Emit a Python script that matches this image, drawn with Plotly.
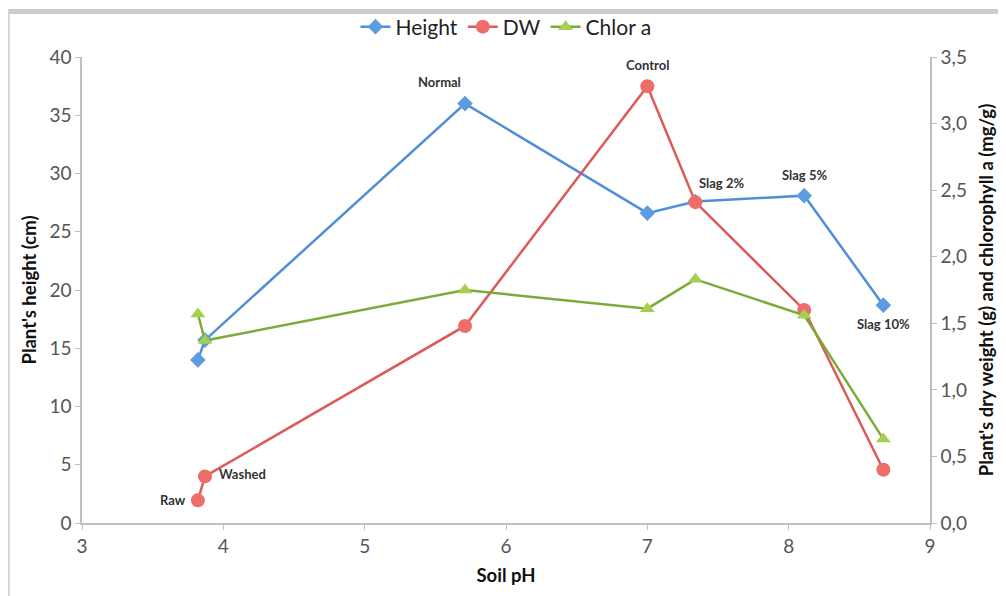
import plotly.graph_objects as go

# Data
soil_ph = [3.82, 3.87, 5.71, 7.00, 7.34, 8.11, 8.67]
treatments = ["Raw", "Washed", "Normal", "Control", "Slag 2%", "Slag 5%", "Slag 10%"]
height_cm = [14.0, 15.7, 36.0, 26.6, 27.6, 28.1, 18.7]
dry_weight_g = [0.17, 0.35, 1.48, 3.28, 2.41, 1.60, 0.40]
chlor_a = [1.57, 1.37, 1.75, 1.61, 1.83, 1.56, 0.63]

x_ticks = [3, 4, 5, 6, 7, 8, 9]
left_ticks = [0, 5, 10, 15, 20, 25, 30, 35, 40]
right_ticks = [0, 0.5, 1.0, 1.5, 2.0, 2.5, 3.0, 3.5]

# label anchoring: (series, xshift, yshift, xanchor)
label_specs = {
    "Raw": ("dw", -10, 0, "right"),
    "Washed": ("dw", 12, 2, "left"),
    "Normal": ("h", -26, 22, "center"),
    "Control": ("dw", 0, 21, "center"),
    "Slag 2%": ("dw", 26, 19, "center"),
    "Slag 5%": ("h", 0, 21, "center"),
    "Slag 10%": ("h", 0, -19, "center"),
}

BLUE_L, BLUE_M = "#4f8fd6", "#5b9de0"
RED_L, RED_M = "#dc5a57", "#ee6d6a"
GREEN_L, GREEN_M = "#7dab3a", "#a5cf4f"

FONT = "Lato, Open Sans, sans-serif"

fig = go.Figure()
fig.add_trace(go.Scatter(
    x=soil_ph, y=height_cm, name="Height", mode="lines+markers",
    line=dict(color=BLUE_L, width=2.5),
    marker=dict(symbol="diamond", size=12, color=BLUE_M),
    yaxis="y"))
fig.add_trace(go.Scatter(
    x=soil_ph, y=dry_weight_g, name="DW", mode="lines+markers",
    line=dict(color=RED_L, width=2.5),
    marker=dict(symbol="circle", size=14, color=RED_M),
    yaxis="y2"))
fig.add_trace(go.Scatter(
    x=soil_ph, y=chlor_a, name="Chlor a", mode="lines+markers",
    line=dict(color=GREEN_L, width=2.5),
    marker=dict(symbol="triangle-up", size=13, color=GREEN_M),
    yaxis="y2"))

annotations = []
for i, name in enumerate(treatments):
    series, xs, ys, xa = label_specs[name]
    if series == "h":
        yval, yref = height_cm[i], "y"
    else:
        yval, yref = dry_weight_g[i], "y2"
    annotations.append(dict(
        x=soil_ph[i], y=yval, xref="x", yref=yref, text="<b>" + name + "</b>",
        showarrow=False, xshift=xs, yshift=ys, xanchor=xa, yanchor="middle",
        font=dict(family=FONT, size=13, color="#333333")))

axis_font = dict(family=FONT, size=19, color="#555555")
title_font = dict(family=FONT, size=18.5, color="#111111")

# page body has an 8px margin, so the figure is offset by 8px
W, H = 998, 588
L, T = 74, 49
pw, ph = 848, 466
R, B = W - L - pw, H - T - ph

def px(xp):
    return (xp - L) / pw

def py(yp):
    return (T + ph - yp) / ph

shapes = [
    dict(type="rect", xref="paper", yref="paper", x0=px(0), x1=px(W), y0=py(6), y1=py(1),
         fillcolor="#cccccc", line=dict(width=0), layer="below"),
    dict(type="line", xref="paper", yref="paper", x0=px(0.8), x1=px(0.8), y0=py(H), y1=py(1),
         line=dict(color="#d4d4d4", width=2)),
]

fig.update_layout(
    width=W, height=H,
    margin=dict(l=L, r=R, t=T, b=B, autoexpand=False),
    paper_bgcolor="white", plot_bgcolor="white",
    separators=",.",
    showlegend=True,
    legend=dict(orientation="h", x=0.5, xanchor="center", y=py(19), yanchor="middle",
                font=dict(family=FONT, size=21, color="#222222"),
                tracegroupgap=0, bgcolor="rgba(0,0,0,0)"),
    xaxis=dict(range=[3, 9], tickvals=x_ticks, showgrid=False, zeroline=False,
               showline=True, linecolor="#bfbfbf", linewidth=1.5,
               ticks="outside", ticklen=5, tickcolor="#bfbfbf",
               tickfont=axis_font, automargin=False,
               title=dict(text="<b>Soil pH</b>", font=title_font, standoff=14)),
    yaxis=dict(range=[0, 40], tickvals=left_ticks, showgrid=False, zeroline=False,
               showline=True, linecolor="#bfbfbf", linewidth=1.5,
               ticks="outside", ticklen=5, tickcolor="#bfbfbf",
               tickfont=axis_font, automargin=False,
               title=dict(text="<b>Plant's height (cm)</b>", font=title_font, standoff=8)),
    yaxis2=dict(range=[0, 3.5], tickvals=right_ticks, tickformat=".1f", overlaying="y",
                side="right", showgrid=False, zeroline=False,
                showline=True, linecolor="#bfbfbf", linewidth=1.5,
                ticks="outside", ticklen=5, tickcolor="#bfbfbf",
                tickfont=axis_font, automargin=False,
                title=dict(text="<b>Plant's dry weight (g) and chlorophyll a (mg/g)</b>",
                           font=title_font, standoff=14)),
    annotations=annotations,
    shapes=shapes,
)

fig.write_html("out.html")
